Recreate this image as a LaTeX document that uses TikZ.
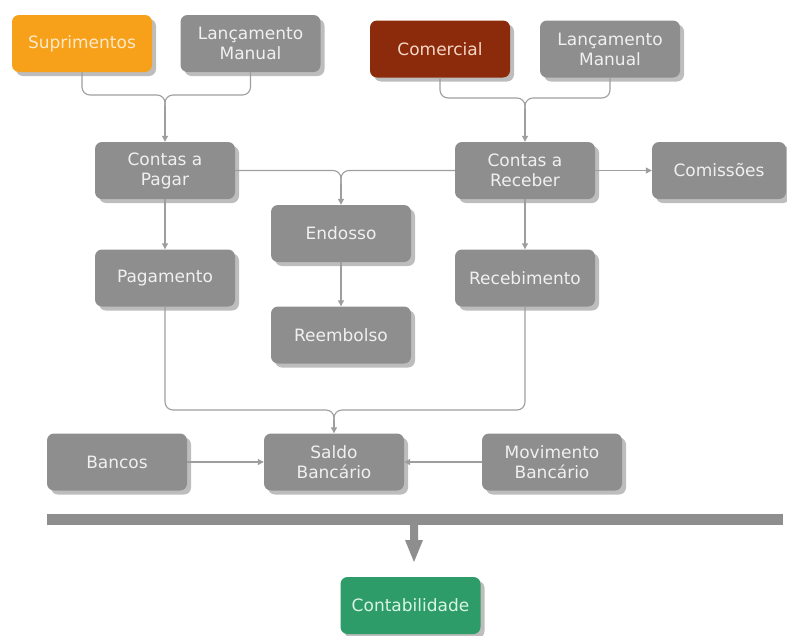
\documentclass[tikz,border=0pt]{standalone}
\usepackage{fontspec}
\setmainfont{DejaVu Sans}
\usetikzlibrary{shadows,arrows.meta}
\definecolor{boxgray}{HTML}{8E8E8E}
\definecolor{shadowgray}{HTML}{BDBDBD}
\definecolor{linegray}{HTML}{9E9E9E}
\definecolor{orangebox}{HTML}{F7A11A}
\definecolor{redbox}{HTML}{8C2B0B}
\definecolor{greenbox}{HTML}{2E9C68}
\definecolor{txt}{HTML}{F0F0F0}
\definecolor{txtorange}{HTML}{FCE9C8}
\definecolor{txtred}{HTML}{F5D7C6}
\definecolor{txtgreen}{HTML}{D9F5E6}
\begin{document}
\begin{tikzpicture}[x=1pt,y=-1pt,
  box/.style={draw=none, fill=boxgray, rounded corners=7pt, minimum width=140pt, minimum height=57pt,
    inner sep=0pt, align=center, text=txt, font=\fontsize{17}{20}\selectfont,
    drop shadow={shadow xshift=4pt, shadow yshift=-4pt, fill=shadowgray, opacity=1}},
  conn/.style={draw=linegray, line width=1.1pt},
  arr/.style={conn, -{Triangle[length=6pt,width=6pt]}},
]
\useasboundingbox (0,0) rectangle (787,635);
\node[box, fill=orangebox, text=txtorange] (sup) at (82,43.5) {Suprimentos};
\node[box] (lm1) at (250.5,43.5) {Lançamento\\Manual};
\node[box, fill=redbox, text=txtred] (com) at (440,49) {Comercial};
\node[box] (lm2) at (610,49) {Lançamento\\Manual};
\node[box] (cap) at (165,170.5) {Contas a\\Pagar};
\node[box] (car) at (525,170.5) {Contas a\\Receber};
\node[box, minimum width=134pt] (comi) at (719,170.5) {Comissões};
\node[box] (end) at (341,233.5) {Endosso};
\node[box] (pag) at (165,278) {Pagamento};
\node[box] (rec) at (525,278) {Recebimento};
\node[box] (ree) at (341,335) {Reembolso};
\node[box] (ban) at (117,462) {Bancos};
\node[box] (sal) at (334,462) {Saldo\\Bancário};
\node[box] (mov) at (552,462) {Movimento\\Bancário};
\node[box, fill=greenbox, text=txtgreen] (cont) at (410.5,605.5) {Contabilidade};

\coordinate (hA) at (165,95);
\coordinate (jA) at (165,106);
\coordinate (hB) at (525,98);
\coordinate (jB) at (525,109);
\coordinate (jC) at (341,184);
\coordinate (hD) at (334,410);
\coordinate (jD) at (334,420);

\draw[conn, rounded corners=8pt] (sup.south) |- (hA) -- (jA);
\draw[conn, rounded corners=8pt] (lm1.south) |- (hA) -- (jA);
\draw[arr] (jA) -- (cap.north);
\draw[conn, rounded corners=8pt] (com.south) |- (hB) -- (jB);
\draw[conn, rounded corners=8pt] (lm2.south) |- (hB) -- (jB);
\draw[arr] (jB) -- (car.north);
\draw[conn, rounded corners=8pt] (cap.east) -| (jC);
\draw[conn, rounded corners=8pt] (car.west) -| (jC);
\draw[arr] (jC) -- (end.north);
\draw[arr] (car.east) -- (comi.west);
\draw[arr] (cap.south) -- (pag.north);
\draw[arr] (car.south) -- (rec.north);
\draw[arr] (end.south) -- (ree.north);
\draw[conn, rounded corners=8pt] (pag.south) |- (hD) -- (jD);
\draw[conn, rounded corners=8pt] (rec.south) |- (hD) -- (jD);
\draw[arr] (jD) -- (sal.north);
\draw[arr] (ban.east) -- (sal.west);
\draw[arr] (mov.west) -- (sal.east);

\fill[boxgray] (47,514) rectangle (783,525);
\fill[boxgray] (410,525) -- (418,525) -- (418,540) -- (423,540) -- (414,562) -- (405,540) -- (410,540) -- cycle;
\end{tikzpicture}
\end{document}
